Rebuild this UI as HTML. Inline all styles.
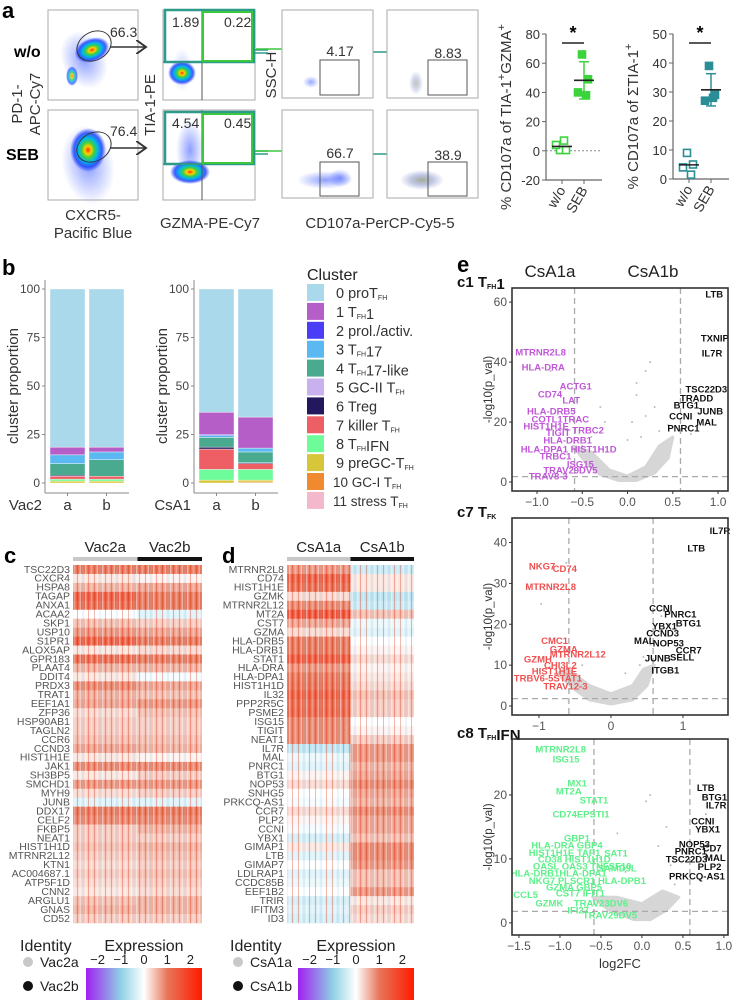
<!DOCTYPE html>
<html><head><meta charset="utf-8"><style>
html,body{margin:0;padding:0;background:#fff}
svg{display:block;font-family:"Liberation Sans",sans-serif}
</style></head><body>
<svg id="fig" width="734" height="1000" viewBox="0 0 734 1000" xmlns="http://www.w3.org/2000/svg">
<defs>
<radialGradient id="blob" cx="50%" cy="50%" r="50%">
<stop offset="0" stop-color="#ff2a00"/><stop offset="0.18" stop-color="#ffd000"/><stop offset="0.35" stop-color="#40d040"/><stop offset="0.55" stop-color="#00b8e8"/><stop offset="0.78" stop-color="#2040ff" stop-opacity="0.85"/><stop offset="1" stop-color="#2040ff" stop-opacity="0"/>
</radialGradient>
<radialGradient id="haze" cx="50%" cy="50%" r="50%">
<stop offset="0" stop-color="#3050ff" stop-opacity="0.55"/><stop offset="1" stop-color="#3050ff" stop-opacity="0"/>
</radialGradient>
<radialGradient id="ghaze" cx="50%" cy="50%" r="50%">
<stop offset="0" stop-color="#808860" stop-opacity="0.7"/><stop offset="0.5" stop-color="#7080c0" stop-opacity="0.45"/><stop offset="1" stop-color="#7080c0" stop-opacity="0"/>
</radialGradient>
<linearGradient id="cbar" x1="0" x2="1" y1="0" y2="0">
<stop offset="0" stop-color="#a020f0"/><stop offset="0.3" stop-color="#8fd0e6"/><stop offset="0.5" stop-color="#ffffff"/><stop offset="0.7" stop-color="#e8765a"/><stop offset="1" stop-color="#ff1a00"/>
</linearGradient>
<pattern id="stripes" width="17" height="10" patternUnits="userSpaceOnUse">
<rect x="0" y="0" width="1.5" height="10" fill="#fff" opacity="0.45"/>
<rect x="3" y="0" width="1" height="10" fill="#e03010" opacity="0.35"/>
<rect x="5.5" y="0" width="2" height="10" fill="#fff" opacity="0.3"/>
<rect x="9" y="0" width="1" height="10" fill="#c02000" opacity="0.3"/>
<rect x="11.5" y="0" width="1.5" height="10" fill="#fff" opacity="0.4"/>
<rect x="14.5" y="0" width="1" height="10" fill="#90c8e0" opacity="0.35"/>
</pattern>
<marker id="arrK" markerWidth="8" markerHeight="10" refX="7" refY="5" orient="auto"><path d="M0,0 L7,5 L0,10" fill="none" stroke="#333" stroke-width="1.4"/></marker>
<marker id="arrG" markerWidth="8" markerHeight="10" refX="7" refY="5" orient="auto"><path d="M0,0 L7,5 L0,10" fill="none" stroke="#3cc83c" stroke-width="1.4"/></marker>
<marker id="arrT" markerWidth="8" markerHeight="10" refX="7" refY="5" orient="auto"><path d="M0,0 L7,5 L0,10" fill="none" stroke="#2e9a8a" stroke-width="1.4"/></marker>
</defs>

<g>
<text x="2" y="18" font-size="22" font-weight="bold">a</text>

<g>
<rect x="48" y="10" width="90" height="90" fill="#fff" stroke="#aaa"/>
<ellipse cx="84" cy="60" rx="22" ry="30" fill="url(#haze)" transform="rotate(-25 84 60)"/>
<ellipse cx="72" cy="76" rx="6" ry="10" fill="url(#blob)" opacity="0.8"/>
<ellipse cx="92" cy="50" rx="18" ry="12" fill="url(#blob)" transform="rotate(-20 92 50)"/>
<ellipse cx="94" cy="46" rx="18" ry="14" fill="none" stroke="#333" transform="rotate(-30 94 46)"/>
<text x="110" y="37" font-size="14" fill="#333">66.3</text>
<line x1="110" y1="47" x2="146" y2="47" stroke="#333" stroke-width="1.4" marker-end="url(#arrK)"/>
</g>
<g>
<rect x="48" y="110" width="90" height="90" fill="#fff" stroke="#aaa"/>
<ellipse cx="88" cy="165" rx="26" ry="40" fill="url(#haze)" transform="rotate(-10 88 165)"/>
<ellipse cx="88" cy="150" rx="18" ry="22" fill="url(#blob)"/>
<ellipse cx="94" cy="147" rx="18" ry="14" fill="none" stroke="#333" transform="rotate(-30 94 147)"/>
<text x="110" y="136" font-size="14" fill="#333">76.4</text>
<line x1="110" y1="148" x2="146" y2="148" stroke="#333" stroke-width="1.4" marker-end="url(#arrK)"/>
</g>
<text x="14" y="57" font-size="16" font-weight="bold">w/o</text>
<text x="6" y="160" font-size="16" font-weight="bold">SEB</text>
<text transform="translate(22,104) rotate(-90)" text-anchor="middle" font-size="15" fill="#333">PD-1-</text>
<text transform="translate(40,104) rotate(-90)" text-anchor="middle" font-size="15" fill="#333">APC-Cy7</text>
<text transform="translate(155,105) rotate(-90)" text-anchor="middle" font-size="15" fill="#333">TIA-1-PE</text>
<text transform="translate(276,75) rotate(-90)" text-anchor="middle" font-size="15" fill="#333">SSC-H</text>
<text x="93" y="220" text-anchor="middle" font-size="15" fill="#333">CXCR5-</text>
<text x="93" y="238" text-anchor="middle" font-size="15" fill="#333">Pacific Blue</text>
<text x="210" y="228" text-anchor="middle" font-size="15" fill="#333">GZMA-PE-Cy7</text>
<text x="380" y="228" text-anchor="middle" font-size="15" fill="#333">CD107a-PerCP-Cy5-5</text>

<g>
<rect x="163" y="10" width="92" height="90" fill="#fff" stroke="#aaa"/>
<ellipse cx="182" cy="70" rx="10" ry="22" fill="url(#haze)" opacity="0.5"/>
<ellipse cx="182" cy="73" rx="14" ry="12" fill="url(#blob)"/>
<line x1="202" y1="10" x2="202" y2="100" stroke="#555"/>
<line x1="163" y1="62" x2="255" y2="62" stroke="#555"/>
<rect x="165" y="10" width="89" height="52" fill="none" stroke="#2e9a8a" stroke-width="2.5"/>
<rect x="203" y="12" width="49" height="49" fill="none" stroke="#3cc83c" stroke-width="2"/>
<text x="172" y="27" font-size="14" fill="#333">1.89</text>
<text x="224" y="27" font-size="14" fill="#333">0.22</text>
</g>
<g>
<rect x="163" y="110" width="92" height="90" fill="#fff" stroke="#aaa"/>
<ellipse cx="190" cy="150" rx="14" ry="30" fill="url(#haze)"/>
<ellipse cx="190" cy="172" rx="20" ry="12" fill="url(#blob)"/>
<line x1="202" y1="110" x2="202" y2="200" stroke="#555"/>
<line x1="163" y1="164" x2="255" y2="164" stroke="#555"/>
<rect x="165" y="112" width="89" height="52" fill="none" stroke="#2e9a8a" stroke-width="2.5"/>
<rect x="203" y="114" width="49" height="49" fill="none" stroke="#3cc83c" stroke-width="2"/>
<text x="172" y="128" font-size="14" fill="#333">4.54</text>
<text x="224" y="128" font-size="14" fill="#333">0.45</text>
</g>
<g>
<line x1="255" y1="50" x2="268" y2="50" stroke="#2e9a8a" stroke-width="1.5"/>
<line x1="255" y1="53" x2="268" y2="53" stroke="#2e9a8a" stroke-width="1.5"/>
<line x1="256" y1="49" x2="311" y2="49" stroke="#3cc83c" stroke-width="1.5" marker-end="url(#arrG)"/>
<line x1="373" y1="52" x2="416" y2="52" stroke="#2e9a8a" stroke-width="1.5" marker-end="url(#arrT)"/>
<line x1="255" y1="151" x2="268" y2="151" stroke="#2e9a8a" stroke-width="1.5"/>
<line x1="255" y1="154" x2="268" y2="154" stroke="#2e9a8a" stroke-width="1.5"/>
<line x1="256" y1="151" x2="311" y2="151" stroke="#3cc83c" stroke-width="1.5" marker-end="url(#arrG)"/>
<line x1="373" y1="154" x2="416" y2="154" stroke="#2e9a8a" stroke-width="1.5" marker-end="url(#arrT)"/>
</g>
<g>
<rect x="282" y="10" width="91" height="88" fill="#fff" stroke="#aaa"/>
<ellipse cx="311" cy="82" rx="8" ry="6" fill="url(#haze)" opacity="0.9"/>
<rect x="320" y="60" width="39" height="35" fill="none" stroke="#555"/>
<text x="340" y="56" font-size="14" fill="#333" text-anchor="middle">4.17</text>
</g>
<g>
<rect x="387" y="10" width="91" height="88" fill="#fff" stroke="#aaa"/>
<ellipse cx="416" cy="83" rx="7" ry="12" fill="url(#ghaze)" opacity="0.7"/>
<rect x="428" y="60" width="39" height="35" fill="none" stroke="#555"/>
<text x="448" y="58" font-size="14" fill="#333" text-anchor="middle">8.83</text>
</g>
<g>
<rect x="282" y="110" width="91" height="88" fill="#fff" stroke="#aaa"/>
<ellipse cx="325" cy="180" rx="28" ry="9" fill="url(#haze)" opacity="1"/>
<ellipse cx="340" cy="178" rx="12" ry="9" fill="url(#haze)"/>
<rect x="320" y="162" width="39" height="34" fill="none" stroke="#555"/>
<text x="340" y="158" font-size="14" fill="#333" text-anchor="middle">66.7</text>
</g>
<g>
<rect x="387" y="110" width="91" height="88" fill="#fff" stroke="#aaa"/>
<ellipse cx="422" cy="180" rx="22" ry="10" fill="url(#ghaze)"/>
<rect x="428" y="162" width="39" height="34" fill="none" stroke="#555"/>
<text x="448" y="160" font-size="14" fill="#333" text-anchor="middle">38.9</text>
</g>
</g>
</svg>
<script>
// ---------- data ----------
const scatterGroups = ['w/o','SEB'];
const s1WoVals = [0.5, 0.5, 4, 7];
const s1SebVals = [66, 49, 40, 38];
const s1Ticks = [-20, 0, 20, 40, 60, 80];
const s2WoVals = [9, 5, 4, 1.5];
const s2SebVals = [39, 29, 27, 28];
const s2Ticks = [0, 10, 20, 30, 40, 50];

const clusterLabels = ['proT','T1','prol./activ.','T17','T17-like','GC-II T','Treg','killer T','TIFN','preGC-T','GC-I T','stress T'];
const clusterColors = ['#a9d9ea','#b65ec8','#4b3cf5','#5bb8f0','#4aaa90','#c9b0ee','#23175e','#ee5e65','#6efb9a','#d8c63a','#f08a30','#f3b8cc'];
const barCategories = ['a','b'];
const vac2aVals = [81.5,4,0,4.5,6,0,0.5,1.5,1,1,0,0];
const vac2bVals = [81.5,2.5,0,4,8.5,0,0,1.5,1,1,0,0];
const csa1aVals = [63.5,11.5,0.5,1,5,0,1,10.5,5.5,1.5,0,0];
const csa1bVals = [66,16,0,2,5.5,0,0.5,3,5.5,1,0.5,0];
const propTicks = [0,25,50,75,100];

const cGenes = ['TSC22D3','CXCR4','HSPA8','TAGAP','ANXA1','ACAA2','SKP1','USP10','S1PR1','ALOX5AP','GPR183','PLAAT4','DDIT4','PRDX3','TRAT1','EEF1A1','ZFP36','HSP90AB1','TAGLN2','CCR6','CCND3','HIST1H1E','JAK1','SH3BP5','SMCHD1','MYH9','JUNB','DDX17','CELF2','FKBP5','NEAT1','HIST1H1D','MTRNR2L12','KTN1','AC004687.1','ATP5F1D','CNN2','ARGLU1','GNAS','CD52'];
const cVac2a = [1.0,0.2,0.6,1.4,1.2,0.0,0.5,0.8,1.4,0.2,1.2,0.6,0.2,0.9,0.6,0.7,0.3,0.4,0.4,0.5,0.7,0.2,0.9,0.2,0.8,0.3,-0.3,1.0,0.9,0.4,0.4,0.5,0.4,0.3,0.4,0.3,0.2,0.5,0.6,0.4];
const cVac2b = [1.0,0.1,0.7,1.0,1.0,-0.3,0.4,0.7,1.0,0.3,1.0,0.6,-0.1,0.7,0.5,0.8,0.5,0.4,0.4,0.5,0.6,0.1,0.9,0.4,0.8,0.4,-0.3,1.0,0.9,0.6,0.4,0.6,0.5,0.4,0.5,0.4,0.3,0.6,0.6,0.4];
const dGenes = ['MTRNR2L8','CD74','HIST1H1E','GZMK','MTRNR2L12','MT2A','CST7','GZMA','HLA-DRB5','HLA-DRB1','STAT1','HLA-DRA','HLA-DPA1','HIST1H1D','IL32','PPP2R5C','PSME2','ISG15','TIGIT','NEAT1','IL7R','MAL','PNRC1','BTG1','NOP53','SNHG5','PRKCQ-AS1','CCR7','PLP2','CCNI','YBX1','GIMAP1','LTB','GIMAP7','LDLRAP1','CCDC85B','EEF1B2','TRIR','IFITM3','ID3'];
const dCsa1a = [0.8,1.4,1.2,0.3,0.9,1.6,0.7,0.3,1.0,1.0,1.5,0.8,1.0,1.1,1.4,1.2,1.3,0.9,0.9,0.9,-0.6,-0.2,-0.3,0.1,0.3,0.0,-0.1,0.3,0.1,-0.1,-0.4,0.2,-0.3,0.0,-0.3,-0.2,0.0,-0.4,-0.3,-0.4];
const dCsa1b = [-0.5,0.2,0.2,-0.6,-0.5,0.5,-0.2,-0.3,0.0,0.1,0.3,0.1,0.2,0.3,0.5,0.4,0.4,0.0,0.1,0.4,0.8,0.8,0.6,0.7,0.9,0.7,0.6,0.9,0.7,0.7,0.5,0.9,0.9,0.8,0.5,0.5,0.8,0.2,0.4,0.3];
const exprTicks = [-2,-1,0,1,2];

const v1XTicks = [-1.0,-0.5,0.0,0.5,1.0];
const v1YTicks = [0,20,40,60];
const v1Cloud = [[-0.6,12],[-0.45,6],[-0.3,2.5],[-0.1,0.5],[0.1,0.5],[0.3,3],[0.45,8],[0.5,15],[0.35,12],[0.2,5],[0,2],[-0.2,4],[-0.4,10]];
const v1Dots = [[0.25,40],[0.2,37],[0.1,33],[0.1,29],[0.05,20],[0.3,25],[0.2,22],[-0.3,25],[-0.25,20],[-0.4,15],[0.45,19],[0.35,17],[-0.5,12],[0.0,14],[0.15,15],[-0.85,37],[0.7,16]];
const v1Down = [['MTRNR2L8',-1.24,43.3],['HLA-DRA',-1.17,38.3],['ACTG1',-0.75,32],['CD74',-0.99,29.3],['LAT',-0.72,27.3],['HLA-DRB5',-1.11,23.7],['COTL1TRAC',-1.06,21],['HIST1H1E',-1.15,18.7],['TRBC2',-0.61,17.3],['TIGIT',-0.9,16.5],['HLA-DRB1',-0.93,14],['HLA-DPA1 HIST1H1D',-1.18,11],['TRBC1',-0.97,8.7],['ISG15',-0.67,6],['TRAV29DV5',-0.93,4],['TRAV8-3',-1.09,2]];
const v1Up = [['LTB',0.86,62.7],['TXNIP',0.81,48],['IL7R',0.82,43],['TSC22D3',0.64,31],['TRADD',0.58,28],['BTG1',0.51,25.7],['JUNB',0.77,23.7],['CCNI',0.46,22],['MAL',0.76,20],['PNRC1',0.44,18]];

const v2XTicks = [-1,0,1];
const v2YTicks = [0,10,20,30,40];
const v2Cloud = [[-0.75,8],[-0.5,4],[-0.3,1.5],[0,0.5],[0.3,1.5],[0.5,5],[0.6,10],[0.45,9],[0.3,5],[0,3],[-0.3,5],[-0.6,9]];
const v2Dots = [[-0.97,25],[0.7,22],[0.8,20],[0.55,15],[0.45,12],[0.4,10],[-0.7,12],[0.2,8],[-0.4,10],[-0.62,35],[-1.12,33.5],[-1.17,29]];
const v2Down = [['NKG7',-1.14,34.3],['CD74',-0.81,33.6],['MTRNR2L8',-1.19,29.2],['CMC1',-0.97,16],['GZMA',-0.85,14],['MTRNR2L12',-0.85,12.7],['GZMH',-1.21,11.5],['CHI3L2',-0.93,10],['HIST1H1E',-1.1,8.6],['TRBV6-5STAT1',-1.35,6.9],['TRAV12-3',-0.94,4.9]];
const v2Up = [['IL7R',1.37,43],['LTB',1.06,38.7],['CCNI',0.53,24],['PNRC1',0.74,22.5],['YBX1',0.57,19.6],['BTG1',0.9,20.3],['CCND3',0.49,17.9],['MAL',0.32,16],['NOP53',0.58,15.4],['CCR7',0.9,13.7],['JUNB',0.47,11.8],['SELL',0.82,12],['ITGB1',0.56,8.8]];

const v3XTicks = [-1.5,-1.0,-0.5,0.0,0.5,1.0];
const v3YTicks = [0,10,20];
const v3Cloud = [[-0.6,4],[-0.4,2],[-0.1,0.5],[0.1,0.5],[0.3,2],[0.45,4],[0.25,5],[0,3],[-0.3,4]];
const v3Dots = [[0.1,20],[0.05,19],[0.3,15],[-0.3,14],[0.2,12],[-0.5,10],[0.35,9],[-0.2,8],[0.4,6],[0.78,17]];
const v3Down = [['MTRNR2L8',-1.3,27.2],['ISG15',-1.09,25.6],['MX1',-0.91,21.9],['MT2A',-1.05,20.6],['STAT1',-0.76,19.2],['CD74EPSTI1',-1.09,17],['GBP1',-0.95,13.3],['HLA-DRA  GBP4',-1.35,12.2],['HIST1H1E  TAP1',-1.38,11],['SAT1',-0.46,10.9],['CD38  HIST1H1D',-1.27,10],['OASL OAS3 TNFSF10',-1.33,8.9],['SAMD9L',-0.54,8.6],['HLA-DRB1HLA-DPA1',-1.6,7.8],['NKG7 PLSCR1  HLA-DPB1',-1.38,6.6],['GZMA  GBP5',-1.17,5.6],['CCL5',-1.57,4.4],['CST7 IFIT1',-1.05,4.7],['GZMK',-1.3,3.1],['TRAV23DV6',-0.83,3.1],['IFI27',-0.91,2],['TRAV29DV5',-0.72,1.25]];
const v3Up = [['LTB',0.67,21.2],['BTG1',0.73,19.7],['IL7R',0.78,18.4],['CCNI',0.6,15.9],['YBX1',0.65,14.7],['NOP53',0.45,12.3],['CD7',0.74,11.7],['PNRC1',0.4,11.2],['MAL',0.77,10.2],['TSC22D3',0.29,10],['PLP2',0.68,8.8],['PRKCQ-AS1',0.33,7.3]];

// ---------- helpers ----------
const NS = 'http://www.w3.org/2000/svg';
const svg = document.getElementById('fig');
function mk(tag, attrs, parent) {
  const e = document.createElementNS(NS, tag);
  for (const k in attrs) e.setAttribute(k, attrs[k]);
  (parent || svg).appendChild(e);
  return e;
}
function tx(x, y, s, attrs, parent) {
  const e = mk('text', Object.assign({x: x, y: y}, attrs || {}), parent);
  e.textContent = s;
  return e;
}
function lin(d0, d1, r0, r1) { return v => r0 + (v - d0) / (d1 - d0) * (r1 - r0); }
function exprColor(v) {
  const stops = [[-2.5,[160,32,240]],[-1,[143,208,230]],[0,[255,255,255]],[1,[232,118,90]],[2.5,[255,26,0]]];
  v = Math.max(-2.5, Math.min(2.5, v));
  for (let i = 0; i < stops.length - 1; i++) {
    const a = stops[i], b = stops[i+1];
    if (v <= b[0]) {
      const t = (v - a[0]) / (b[0] - a[0]);
      const c = a[1].map((ch, j) => Math.round(ch + (b[1][j] - ch) * t));
      return 'rgb(' + c.join(',') + ')';
    }
  }
  return 'rgb(255,26,0)';
}

// ---------- scatter charts (panel a) ----------
function scatterChart(name, axisX, yTop, yBot, domain, ticks, wo, seb, color, label1) {
  const g = mk('g', {});
  
  
  const ys = lin(domain[0], domain[1], yBot, yTop);
  const xc = i => axisX + 16 + i * 22;
  mk('line', {x1: axisX, y1: yTop, x2: axisX, y2: yBot, stroke: '#666', 'stroke-width': 1.2}, g);
  mk('line', {x1: axisX, y1: yBot, x2: axisX + 56, y2: yBot, stroke: '#666', 'stroke-width': 1.2}, g);
  ticks.forEach(t => {
    mk('line', {x1: axisX - 4, y1: ys(t), x2: axisX, y2: ys(t), stroke: '#666'}, g);
    const tl = tx(axisX - 6, ys(t) + 5, String(t), {'text-anchor': 'end', 'font-size': 13, fill: '#333'}, g);
    
    
  });
  if (domain[0] < 0) mk('line', {x1: axisX, y1: ys(0), x2: axisX + 56, y2: ys(0), stroke: '#888', 'stroke-dasharray': '2,2'}, g);
  scatterGroups.forEach((gr, i) => {
    mk('line', {x1: xc(i), y1: yBot, x2: xc(i), y2: yBot + 4, stroke: '#666'}, g);
    const l = tx(0, 0, gr, {'font-size': 14, fill: '#333', 'text-anchor': 'end', transform: 'translate(' + (xc(i) + 4) + ',' + (yBot + 10) + ') rotate(-60)'}, g);
    
    
  });
  [wo, seb].forEach((vals, i) => {
    const mean = vals.reduce((a, b) => a + b, 0) / vals.length;
    const sd = Math.sqrt(vals.reduce((a, b) => a + (b - mean) * (b - mean), 0) / (vals.length - 1));
    const cx = xc(i);
    if (i === 1) {
      mk('line', {x1: cx, y1: ys(mean - sd), x2: cx, y2: ys(mean + sd), stroke: color, 'stroke-width': 1.5}, g);
      mk('line', {x1: cx - 5, y1: ys(mean - sd), x2: cx + 5, y2: ys(mean - sd), stroke: color, 'stroke-width': 1.5}, g);
      mk('line', {x1: cx - 5, y1: ys(mean + sd), x2: cx + 5, y2: ys(mean + sd), stroke: color, 'stroke-width': 1.5}, g);
    }
    vals.forEach((v, j) => {
      const off = (j % 2 === 0 ? -1 : 1) * (2 + (j % 3) * 2);
      const p = mk('rect', {x: cx + off - 3.5, y: ys(v) - 3.5, width: 7, height: 7, fill: i ? color : '#fff', stroke: color, 'stroke-width': 1.6}, g);
      
      
    });
    const m = mk('line', {x1: cx - 10, y1: ys(mean), x2: cx + 10, y2: ys(mean), stroke: '#222', 'stroke-width': 1.6}, g);
    
    
  });
  mk('line', {x1: xc(0), y1: yTop + 9, x2: xc(1), y2: yTop + 9, stroke: '#222', 'stroke-width': 1.5}, g);
  const st = tx((xc(0) + xc(1)) / 2, yTop + 5, '*', {'text-anchor': 'middle', 'font-size': 18, 'font-weight': 'bold'}, g);
  
  
  const yl = mk('text', {transform: 'translate(' + (axisX - 35) + ',' + ((yTop + yBot) / 2 + 10) + ') rotate(-90)', 'text-anchor': 'middle', 'font-size': 15, fill: '#333'}, g);
  yl.innerHTML = label1;
  
  
}
scatterChart('scatter-tia-gzma', 546, 34, 180, [-20, 80], s1Ticks, s1WoVals, s1SebVals, '#3dd33d', '% CD107a of TIA-1<tspan baseline-shift="super" font-size="11">+</tspan>GZMA<tspan baseline-shift="super" font-size="11">+</tspan>');
scatterChart('scatter-sum-tia', 673, 34, 179, [0, 50], s2Ticks, s2WoVals, s2SebVals, '#2b8d96', '% CD107a of ΣTIA-1<tspan baseline-shift="super" font-size="11">+</tspan>');

// ---------- panel b stacked bars ----------
const pb = tx(2, 275, 'b', {'font-size': 22, 'font-weight': 'bold'});


function stackChart(name, axisX, groupLabel, seriesA, seriesB) {
  const g = mk('g', {});
  
  
  const ys = lin(0, 100, 483, 289);
  mk('line', {x1: axisX, y1: 280, x2: axisX, y2: 493, stroke: '#888'}, g);
  mk('line', {x1: axisX, y1: 493, x2: axisX + 84, y2: 493, stroke: '#888'}, g);
  propTicks.forEach(t => {
    mk('line', {x1: axisX - 3, y1: ys(t), x2: axisX, y2: ys(t), stroke: '#888'}, g);
    const tl = tx(axisX - 5, ys(t) + 4, String(t), {'text-anchor': 'end', 'font-size': 12, fill: '#444'}, g);
    
    
  });
  const yt = tx(0, 0, 'cluster proportion', {transform: 'translate(' + (axisX - 27) + ',386) rotate(-90)', 'text-anchor': 'middle', 'font-size': 15, fill: '#333'}, g);
  
  
  const gl = tx(axisX - 3, 510, groupLabel, {'text-anchor': 'end', 'font-size': 15, fill: '#333'}, g);
  
  
  [seriesA, seriesB].forEach((vals, i) => {
    const bx = axisX + 5 + i * 39;
    let cum = 0;
    for (let k = vals.length - 1; k >= 0; k--) {
      if (vals[k] <= 0) continue;
      const r = mk('rect', {x: bx, y: ys(cum + vals[k]), width: 35, height: ys(cum) - ys(cum + vals[k]), fill: clusterColors[k], stroke: '#fff', 'stroke-width': 0.4}, g);
      
      
      cum += vals[k];
    }
    mk('line', {x1: bx + 17.5, y1: 493, x2: bx + 17.5, y2: 496, stroke: '#888'}, g);
    const cl = tx(bx + 17.5, 510, barCategories[i], {'text-anchor': 'middle', 'font-size': 15, fill: '#333'}, g);
    
    
  });
}
stackChart('stacked-bar-vac2', 45, 'Vac2', vac2aVals, vac2bVals);
stackChart('stacked-bar-csa1', 194, 'CsA1', csa1aVals, csa1bVals);
(function legend() {
  const g = mk('g', {});
  
  
  const t = tx(307, 280, 'Cluster', {'font-size': 16, fill: '#222'}, g);
  
  
  clusterLabels.forEach((lab, i) => {
    const y = 284 + i * 18.9;
    const sw = mk('rect', {x: 307, y: y, width: 17, height: 17, fill: clusterColors[i]}, g);
    
    
    const e = mk('text', {x: i >= 10 ? 333 : 336, y: y + 14, 'font-size': i >= 10 ? 13.5 : 14.5, fill: '#333'}, g);
    const fh = '<tspan font-size="7" dy="2">FH</tspan><tspan dy="-2"></tspan>';
    const parts = {0:'proT'+fh, 1:'T'+fh+'1', 2:'prol./activ.', 3:'T'+fh+'17', 4:'T'+fh+'17-like', 5:'GC-II T'+fh, 6:'Treg', 7:'killer T'+fh, 8:'T'+fh+'IFN', 9:'preGC-T'+fh, 10:'GC-I T'+fh, 11:'stress T'+fh};
    e.innerHTML = i + (i >= 10 ? ' ' : '  ') + parts[i];
    e.setAttribute('xml:space', 'preserve');
    
    
  });
})();

// ---------- heatmaps (c, d) ----------
function heatmap(name, letter, letterX, x0, x1, genes, aVals, bVals, labA, labB) {
  const g = mk('g', {});
  
  
  const pl = tx(letterX, 563, letter, {'font-size': 22, 'font-weight': 'bold'}, g);
  
  
  const mid = (x0 + x1) / 2;
  const top = 565, rowH = (923 - 565) / genes.length;
  mk('rect', {x: x0, y: 557, width: mid - x0, height: 4, fill: '#c8c8c8'}, g);
  mk('rect', {x: mid, y: 557, width: x1 - mid, height: 4, fill: '#111'}, g);
  const ha = tx((x0 + mid) / 2, 552, labA, {'text-anchor': 'middle', 'font-size': 15, fill: '#222'}, g);
  
  
  const hb = tx((mid + x1) / 2, 552, labB, {'text-anchor': 'middle', 'font-size': 15, fill: '#222'}, g);
  
  
  genes.forEach((gn, i) => {
    const y = top + i * rowH;
    const ca = mk('rect', {x: x0, y: y, width: mid - x0, height: rowH + 0.3, fill: exprColor(aVals[i])}, g);
    
    
    const cb = mk('rect', {x: mid, y: y, width: x1 - mid, height: rowH + 0.3, fill: exprColor(bVals[i])}, g);
    
    
    const gl = tx(x0 - 3, y + rowH - 1.2, gn, {'text-anchor': 'end', 'font-size': 10.5, fill: '#555'}, g);
    
    
  });
  mk('rect', {x: x0, y: top, width: x1 - x0, height: 923 - top, fill: 'url(#stripes)'}, g);
}
heatmap('heatmap-vac2', 'c', 4, 73, 202, cGenes, cVac2a, cVac2b, 'Vac2a', 'Vac2b');
heatmap('heatmap-csa1', 'd', 222, 287, 414, dGenes, dCsa1a, dCsa1b, 'CsA1a', 'CsA1b');

function heatLegend(name, idX, cbX0, cbX1, labA, labB) {
  const g = mk('g', {});
  
  
  const it = tx(idX - 4, 951, 'Identity', {'font-size': 16, fill: '#222'}, g);
  
  
  mk('circle', {cx: idX + 4, cy: 962, r: 5, fill: '#c8c8c8'}, g);
  mk('circle', {cx: idX + 4, cy: 986, r: 5, fill: '#111'}, g);
  const a = tx(idX + 16, 967, labA, {'font-size': 14, fill: '#222'}, g);
  
  
  const b = tx(idX + 16, 991, labB, {'font-size': 14, fill: '#222'}, g);
  
  
  const et = tx((cbX0 + cbX1) / 2, 951, 'Expression', {'text-anchor': 'middle', 'font-size': 16, fill: '#222'}, g);
  
  
  const cb = mk('rect', {x: cbX0, y: 968, width: cbX1 - cbX0, height: 32, fill: 'url(#cbar)'}, g);
  
  
  const xs = lin(-2.5, 2.5, cbX0, cbX1);
  exprTicks.forEach(t => {
    const l = tx(xs(t), 964, t < 0 ? '−' + Math.abs(t) : String(t), {'text-anchor': 'middle', 'font-size': 13, fill: '#222'}, g);
    
    
  });
}
heatLegend('heatmap-legend-vac2', 24, 86, 202, 'Vac2a', 'Vac2b');
heatLegend('heatmap-legend-csa1', 234, 298, 414, 'CsA1a', 'CsA1b');

// ---------- volcano plots (e) ----------
const pe = tx(457, 272, 'e', {'font-size': 22, 'font-weight': 'bold'});


const ha1 = tx(550, 277, 'CsA1a', {'text-anchor': 'middle', 'font-size': 17, fill: '#222'});


const hb1 = tx(653, 277, 'CsA1b', {'text-anchor': 'middle', 'font-size': 17, fill: '#222'});



function volcano(name, title, box, xd, yd, xTicks, yTicks, cloud, dots, down, up, downColor) {
  const g = mk('g', {});
  
  
  const xs = lin(xd[0], xd[1], box[0], box[2]);
  const ys = lin(yd[0], yd[1], box[3], box[1]);
  const tt = mk('text', {x: 457, y: box[1] - 1, 'font-size': 15, 'font-weight': 'bold', fill: '#111'}, g);
  tt.innerHTML = title;
  
  
  const cl = mk('polygon', {points: cloud.map(p => xs(p[0]) + ',' + ys(p[1])).join(' '), fill: '#d6d6d6', stroke: '#d6d6d6', 'stroke-width': 3, 'stroke-linejoin': 'round'}, g);
  
  
  dots.forEach(p => {
    const d = mk('circle', {cx: xs(p[0]), cy: ys(p[1]), r: 1, fill: '#bbb'}, g);
    
    
  });
  [-0.585, 0.585].forEach(v => mk('line', {x1: xs(v), y1: box[1], x2: xs(v), y2: box[3], stroke: '#aaa', 'stroke-width': 1.3, 'stroke-dasharray': '6,4'}, g));
  mk('line', {x1: box[0], y1: ys(1.8), x2: box[2], y2: ys(1.8), stroke: '#aaa', 'stroke-width': 1.3, 'stroke-dasharray': '6,4'}, g);
  down.forEach(l => {
    const t = tx(xs(l[1]), ys(l[2]) + 3.5, l[0], {'font-size': 9.5, 'font-weight': 'bold', fill: downColor}, g);
    t.setAttribute('xml:space', 'preserve');
    
    
  });
  up.forEach(l => {
    const t = tx(xs(l[1]), ys(l[2]) + 3.5, l[0], {'font-size': 9.5, 'font-weight': 'bold', fill: '#111'}, g);
    
    
  });
  const fr = mk('rect', {x: box[0], y: box[1], width: box[2] - box[0], height: box[3] - box[1], fill: 'none', stroke: '#333', 'stroke-width': 1.6}, g);
  
  
  xTicks.forEach(t => {
    mk('line', {x1: xs(t), y1: box[3], x2: xs(t), y2: box[3] + 3, stroke: '#333'}, g);
    const s = (xTicks.length > 3) ? t.toFixed(1) : String(t);
    const l = tx(xs(t), box[3] + 15, s.replace('-', '−'), {'text-anchor': 'middle', 'font-size': 12, fill: '#555'}, g);
    
    
  });
  yTicks.forEach(t => {
    mk('line', {x1: box[0] - 3, y1: ys(t), x2: box[0], y2: ys(t), stroke: '#333'}, g);
    const l = tx(box[0] - 5, ys(t) + 4, String(t), {'text-anchor': 'end', 'font-size': 12, fill: '#555'}, g);
    
    
  });
  const yt = tx(0, 0, '-log10(p_val)', {transform: 'translate(' + (box[0] - 20) + ',' + ((box[1] + box[3]) / 2) + ') rotate(-90)', 'text-anchor': 'middle', 'font-size': 11.5, fill: '#333'}, g);
  
  
}
const FHs = '<tspan font-size="7" dy="2">FH</tspan><tspan dy="-2"></tspan>';
volcano('volcano-c1', 'c1 T' + FHs + '1', [512, 288, 728, 491], [-1.276, 1.11], [-3, 64.7], v1XTicks, v1YTicks, v1Cloud, v1Dots, v1Down, v1Up, '#c157d8');
volcano('volcano-c7', 'c7 T<tspan font-size="7" dy="2">FK</tspan>', [512, 518, 728, 715], [-1.375, 1.625], [-2.2, 46], v2XTicks, v2YTicks, v2Cloud, v2Dots, v2Down, v2Up, '#f05050');
volcano('volcano-c8', 'c8 T' + FHs + 'IFN', [512, 739, 728, 935], [-1.585, 1.05], [-1.9, 28.75], v3XTicks, v3YTicks, v3Cloud, v3Dots, v3Down, v3Up, '#5ef08a');
const xt = tx(620, 968, 'log2FC', {'text-anchor': 'middle', 'font-size': 13, fill: '#333'});


</script>
</body></html>
